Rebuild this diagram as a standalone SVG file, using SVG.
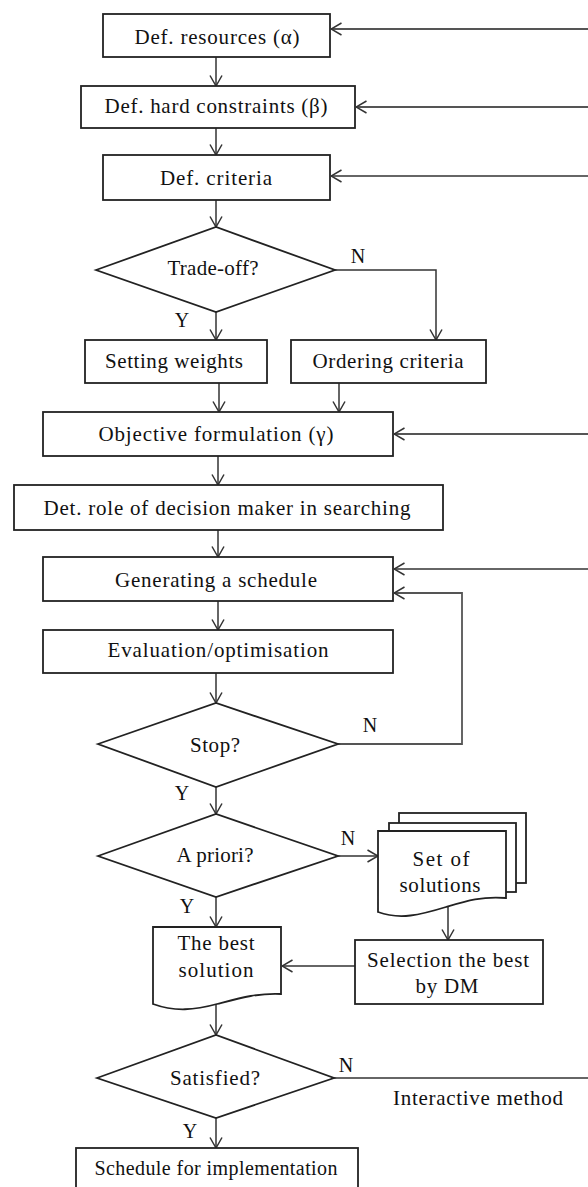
<svg xmlns="http://www.w3.org/2000/svg" width="588" height="1187" viewBox="0 0 588 1187">
<style>
  .shape { fill: #ffffff; stroke: #222222; stroke-width: 1.8; }
  .conn { fill: none; stroke: #333333; stroke-width: 1.5; }
  .fb { fill: none; stroke: #555555; stroke-width: 1.8; }
</style>
<defs>
  <marker id="arr" markerUnits="userSpaceOnUse" viewBox="0 0 12 14" markerWidth="12" markerHeight="14" refX="11.5" refY="7" orient="auto">
    <path d="M1,1 L11.5,7 L1,13" fill="none" stroke="#333333" stroke-width="1.5"/>
  </marker>
</defs>
<rect x="0" y="0" width="588" height="1187" fill="#ffffff"/>

<g id="connectors">
  <path class="fb" d="M588,29 H331" marker-end="url(#arr)"/>
  <path class="fb" d="M588,107 H356" marker-end="url(#arr)"/>
  <path class="conn" d="M588,176 H331" marker-end="url(#arr)"/>
  <path class="fb" d="M588,434 H394" marker-end="url(#arr)"/>
  <path class="conn" d="M588,569 H394" marker-end="url(#arr)"/>
  <path class="conn" d="M216,57 V86" marker-end="url(#arr)"/>
  <path class="conn" d="M216,128 V155" marker-end="url(#arr)"/>
  <path class="conn" d="M216,200 V227" marker-end="url(#arr)"/>
  <path class="conn" d="M335,270 H436 V340" marker-end="url(#arr)"/>
  <path class="conn" d="M216,312 V340" marker-end="url(#arr)"/>
  <path class="conn" d="M219,383 V412" marker-end="url(#arr)"/>
  <path class="conn" d="M339,383 V412" marker-end="url(#arr)"/>
  <path class="conn" d="M218,456 V485" marker-end="url(#arr)"/>
  <path class="conn" d="M218,530 V557" marker-end="url(#arr)"/>
  <path class="conn" d="M218,601 V630" marker-end="url(#arr)"/>
  <path class="conn" d="M216,673 V703" marker-end="url(#arr)"/>
  <path class="fb" d="M338,744 H462 V593 H394" marker-end="url(#arr)"/>
  <path class="conn" d="M216,787 V814" marker-end="url(#arr)"/>
  <path class="conn" d="M338,856 H378" marker-end="url(#arr)"/>
  <path class="conn" d="M216,897 V927" marker-end="url(#arr)"/>
  <path class="conn" d="M448,907 V940" marker-end="url(#arr)"/>
  <path class="conn" d="M355,966 H282" marker-end="url(#arr)"/>
  <path class="conn" d="M216,1004 V1035" marker-end="url(#arr)"/>
  <path class="conn" d="M334,1078 H588"/>
  <path class="conn" d="M216,1118 V1148" marker-end="url(#arr)"/>
</g>

<g id="n-resources">
  <rect class="shape" x="103" y="14" width="227" height="43"/>
  <text x="217" y="44" font-family="Liberation Serif" font-size="21" text-anchor="middle" fill="#111" textLength="165" lengthAdjust="spacing">Def. resources (α)</text>
</g>
<g id="n-constraints">
  <rect class="shape" x="81" y="86" width="274" height="42"/>
  <text x="216" y="113" font-family="Liberation Serif" font-size="21" text-anchor="middle" fill="#111" textLength="223" lengthAdjust="spacing">Def. hard constraints (β)</text>
</g>
<g id="n-criteria">
  <rect class="shape" x="103" y="155" width="227" height="45"/>
  <text x="216" y="185" font-family="Liberation Serif" font-size="21" text-anchor="middle" fill="#111" textLength="112" lengthAdjust="spacing">Def. criteria</text>
</g>
<g id="n-tradeoff">
  <polygon class="shape" points="96,270 216,227 335,270 216,312"/>
  <text x="213" y="275" font-family="Liberation Serif" font-size="21" text-anchor="middle" fill="#111" textLength="91" lengthAdjust="spacing">Trade-off?</text>
  <text x="358" y="263" font-family="Liberation Serif" font-size="20" text-anchor="middle" fill="#111">N</text>
  <text x="182" y="327" font-family="Liberation Serif" font-size="20" text-anchor="middle" fill="#111">Y</text>
</g>
<g id="n-weights">
  <rect class="shape" x="85" y="340" width="182" height="43"/>
  <text x="174" y="368" font-family="Liberation Serif" font-size="21" text-anchor="middle" fill="#111" textLength="138" lengthAdjust="spacing">Setting weights</text>
</g>
<g id="n-ordering">
  <rect class="shape" x="291" y="340" width="195" height="43"/>
  <text x="388" y="368" font-family="Liberation Serif" font-size="21" text-anchor="middle" fill="#111" textLength="151" lengthAdjust="spacing">Ordering criteria</text>
</g>
<g id="n-objective">
  <rect class="shape" x="43" y="412" width="350" height="44"/>
  <text x="216" y="441" font-family="Liberation Serif" font-size="21" text-anchor="middle" fill="#111" textLength="235" lengthAdjust="spacing">Objective formulation (γ)</text>
</g>
<g id="n-role">
  <rect class="shape" x="14" y="485" width="429" height="45"/>
  <text x="227" y="515" font-family="Liberation Serif" font-size="21" text-anchor="middle" fill="#111" textLength="367" lengthAdjust="spacing">Det. role of decision maker in searching</text>
</g>
<g id="n-generating">
  <rect class="shape" x="43" y="557" width="350" height="44"/>
  <text x="216" y="587" font-family="Liberation Serif" font-size="21" text-anchor="middle" fill="#111" textLength="202" lengthAdjust="spacing">Generating a schedule</text>
</g>
<g id="n-evaluation">
  <rect class="shape" x="43" y="630" width="350" height="43"/>
  <text x="218" y="657" font-family="Liberation Serif" font-size="21" text-anchor="middle" fill="#111" textLength="221" lengthAdjust="spacing">Evaluation/optimisation</text>
</g>
<g id="n-stop">
  <polygon class="shape" points="98,744 216,703 338,744 216,787"/>
  <text x="215" y="752" font-family="Liberation Serif" font-size="21" text-anchor="middle" fill="#111" textLength="50" lengthAdjust="spacing">Stop?</text>
  <text x="370" y="732" font-family="Liberation Serif" font-size="20" text-anchor="middle" fill="#111">N</text>
  <text x="182" y="800" font-family="Liberation Serif" font-size="20" text-anchor="middle" fill="#111">Y</text>
</g>
<g id="n-apriori">
  <polygon class="shape" points="98,856 216,814 338,856 216,897"/>
  <text x="215" y="862" font-family="Liberation Serif" font-size="21" text-anchor="middle" fill="#111" textLength="77" lengthAdjust="spacing">A priori?</text>
  <text x="348" y="845" font-family="Liberation Serif" font-size="20" text-anchor="middle" fill="#111">N</text>
  <text x="187" y="913" font-family="Liberation Serif" font-size="20" text-anchor="middle" fill="#111">Y</text>
</g>
<g id="n-set">
  <rect class="shape" x="399" y="813" width="127" height="70"/>
  <rect class="shape" x="389" y="823" width="127" height="69"/>
  <path class="shape" d="M378,831 H506 V898 C482,896 466,901 446,907 C420,915 400,920 378,912 Z"/>
  <text x="441" y="866" font-family="Liberation Serif" font-size="21" text-anchor="middle" fill="#111" textLength="57" lengthAdjust="spacing">Set of</text>
  <text x="440" y="892" font-family="Liberation Serif" font-size="21" text-anchor="middle" fill="#111" textLength="81" lengthAdjust="spacing">solutions</text>
</g>
<g id="n-selection">
  <rect class="shape" x="355" y="940" width="188" height="64"/>
  <text x="448" y="967" font-family="Liberation Serif" font-size="21" text-anchor="middle" fill="#111" textLength="162" lengthAdjust="spacing">Selection the best</text>
  <text x="447" y="993" font-family="Liberation Serif" font-size="21" text-anchor="middle" fill="#111" textLength="63" lengthAdjust="spacing">by DM</text>
</g>
<g id="n-best">
  <path class="shape" d="M153,927 H281 V994 C257,993 240,998 217,1004 C195,1010 175,1012 153,1004 Z"/>
  <text x="216" y="950" font-family="Liberation Serif" font-size="21" text-anchor="middle" fill="#111" textLength="77" lengthAdjust="spacing">The best</text>
  <text x="216" y="977" font-family="Liberation Serif" font-size="21" text-anchor="middle" fill="#111" textLength="75" lengthAdjust="spacing">solution</text>
</g>
<g id="n-satisfied">
  <polygon class="shape" points="97,1078 216,1035 334,1078 216,1118"/>
  <text x="215" y="1085" font-family="Liberation Serif" font-size="21" text-anchor="middle" fill="#111" textLength="90" lengthAdjust="spacing">Satisfied?</text>
  <text x="346" y="1072" font-family="Liberation Serif" font-size="20" text-anchor="middle" fill="#111">N</text>
  <text x="478" y="1105" font-family="Liberation Serif" font-size="21" text-anchor="middle" fill="#111" textLength="170" lengthAdjust="spacing">Interactive method</text>
  <text x="190" y="1138" font-family="Liberation Serif" font-size="20" text-anchor="middle" fill="#111">Y</text>
</g>
<g id="n-schedule">
  <rect class="shape" x="76" y="1148" width="282" height="60"/>
  <text x="216" y="1175" font-family="Liberation Serif" font-size="20" text-anchor="middle" fill="#111" textLength="243" lengthAdjust="spacing">Schedule for implementation</text>
</g>
</svg>
